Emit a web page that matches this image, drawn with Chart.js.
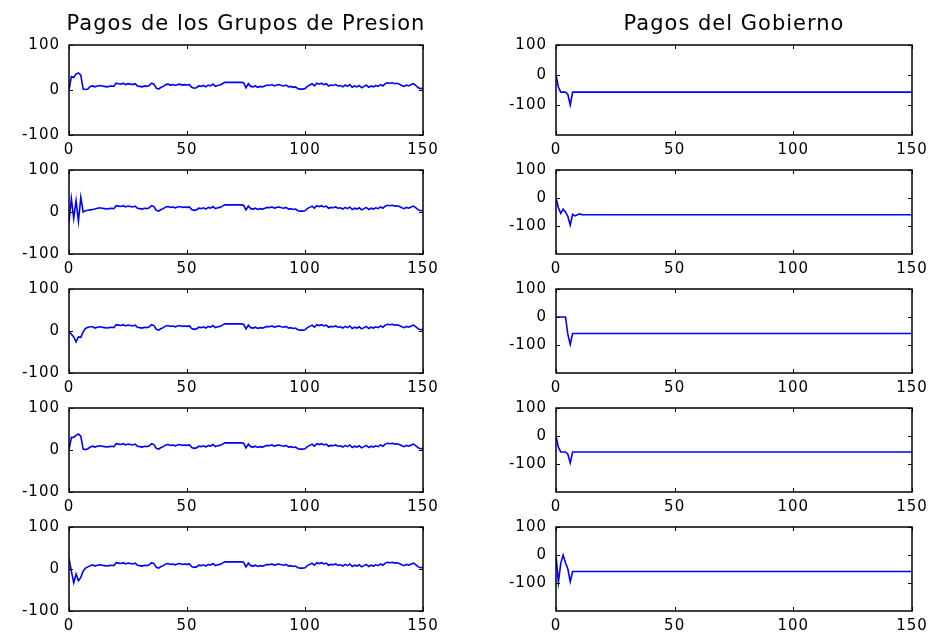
<!DOCTYPE html>
<html lang="es">
<head>
<meta charset="utf-8">
<title>Pagos de los Grupos de Presion / Pagos del Gobierno</title>
<script src="https://cdn.jsdelivr.net/npm/chart.js@4.4.1/dist/chart.umd.min.js"></script>
<style>
  html, body { margin: 0; padding: 0; background: #fff; }
  #lienzo { position: relative; width: 931px; height: 639px; overflow: hidden; }
  #lienzo canvas { position: absolute; }
</style>
</head>
<body>
<div id="lienzo"></div>
<script>
// --- datos -------------------------------------------------------------

// periodos 0..150 (eje x comun)
const PERIODOS = [];
for (let t = 0; t <= 150; t++) PERIODOS.push(t);

const X_TICKS = [0, 50, 100, 150];
const Y_TICKS = [-100, 0, 100];

const TITULO_IZQ = 'Pagos de los Grupos de Presion';
const TITULO_DER = 'Pagos del Gobierno';

// grupos de presion: arranque t = 0..10 de cada simulacion
const PRESION_INICIO_1 = [0, 30, 28, 36, 38, 33, 2, 1, 2, 8, 9];
const PRESION_INICIO_2 = [-25, 32, -15, 27, -22, 35, 0, 3, 4, 5, 6];
const PRESION_INICIO_3 = [0, -8, -14, -26, -14, -15, -2, 6, 9, 10, 10];
const PRESION_INICIO_4 = [0, 30, 30, 35, 38, 33, 2, 1, 3, 7, 9];
const PRESION_INICIO_5 = [25, -5, -33, -12, -28, -20, -5, 2, 5, 8, 10];

// tramo t = 11..150, igual en las cinco simulaciones
const PRESION_COLA = [
  7, 9, 10, 9, 8, 7, 8, 9, 8, 15,
  14, 13, 15, 12, 14, 13, 12, 14, 9, 8,
  7, 9, 8, 10, 15, 13, 4, 2, 6, 8,
  12, 13, 11, 12, 10, 12, 13, 11, 12, 11,
  12, 6, 4, 5, 9, 8, 10, 7, 11, 9,
  13, 8, 10, 11, 14, 17, 17, 17, 17, 17,
  17, 17, 17, 16, 5, 14, 8, 7, 9, 6,
  8, 7, 9, 11, 10, 12, 9, 11, 12, 10,
  9, 11, 7, 8, 6, 7, 3, 2, 2, 3,
  8, 11, 14, 9, 15, 13, 15, 12, 14, 9,
  11, 10, 12, 9, 10, 7, 11, 8, 12, 6,
  9, 7, 10, 5, 8, 11, 6, 9, 7, 10,
  8, 12, 9, 14, 16, 15, 16, 14, 15, 13,
  10, 8, 11, 9, 12, 14, 10, 5, 3, 4
];

// gobierno: vertices [t, pago]; despues del ultimo cambio el pago queda fijo
const GOBIERNO_1 = [[0, 0], [1, -40], [2, -57], [4, -57], [5, -65], [6, -100], [7, -57], [150, -57]];
const GOBIERNO_2 = [[0, 0], [1, -35], [2, -55], [3, -40], [4, -50], [5, -66], [6, -97], [7, -58],
                    [8, -64], [9, -60], [10, -57], [11, -60], [150, -60]];
const GOBIERNO_3 = [[0, 0], [4, 0], [5, -62], [6, -98], [7, -59], [150, -59]];
const GOBIERNO_4 = [[0, 0], [1, -40], [2, -57], [4, -57], [5, -65], [6, -96], [7, -57], [150, -57]];
const GOBIERNO_5 = [[0, 0], [1, -98], [2, -30], [3, 0], [4, -28], [5, -50], [6, -95], [7, -59], [150, -59]];

// --- maquetacion -------------------------------------------------------

const FILAS_Y = [45, 164, 283, 402, 521];
const COL_IZQ = { x: 69, w: 354 };
const COL_DER = { x: 556, w: 356 };
const ALTO = 90;
const MARGEN_LAT = 60; // ancho del eje y, repetido a la derecha para centrar el titulo
const EJE_X = 30;      // alto reservado para las etiquetas del eje x
const MARGEN_SUP = 12;

const FUENTE = "'DejaVu Sans', Verdana, sans-serif";
const AZUL = '#0000ff';

// estilo tipo matlab: caja cerrada y marcas hacia dentro
const cajaMatlab = {
  id: 'cajaMatlab',
  beforeDraw(chart) {
    chart.ctx.letterSpacing = '1px';
  },
  afterDatasetsDraw(chart) {
    const { ctx, chartArea: a, scales: { x, y } } = chart;
    ctx.save();
    ctx.strokeStyle = '#000';
    ctx.lineWidth = 1;
    ctx.beginPath();
    x.ticks.forEach(t => {
      const px = Math.round(x.getPixelForValue(t.value)) + 0.5;
      ctx.moveTo(px, a.bottom); ctx.lineTo(px, a.bottom - 4);
      ctx.moveTo(px, a.top); ctx.lineTo(px, a.top + 4);
    });
    y.ticks.forEach(t => {
      const py = Math.round(y.getPixelForValue(t.value)) + 0.5;
      ctx.moveTo(a.left, py); ctx.lineTo(a.left + 4, py);
      ctx.moveTo(a.right, py); ctx.lineTo(a.right - 4, py);
    });
    ctx.stroke();
    ctx.lineWidth = 1.5;
    ctx.strokeRect(a.left, a.top, a.right - a.left, a.bottom - a.top);
    ctx.restore();
  }
};

function crearPanel(col, fila, datos, yMin, titulo) {
  const canvas = document.createElement('canvas');
  const top = FILAS_Y[fila];
  const canvasTop = titulo ? 0 : top - MARGEN_SUP;
  canvas.width = MARGEN_LAT + col.w + MARGEN_LAT;
  canvas.height = (top - canvasTop) + ALTO + EJE_X;
  canvas.style.left = (col.x - MARGEN_LAT) + 'px';
  canvas.style.top = canvasTop + 'px';
  document.getElementById('lienzo').appendChild(canvas);

  const tickFont = { family: FUENTE, size: 15 };
  const tituloFont = 21;
  const tituloPadTop = 12;

  return new Chart(canvas, {
    type: 'line',
    data: {
      labels: PERIODOS,
      datasets: [{
        data: datos,
        borderColor: AZUL,
        borderWidth: 1.6,
        pointRadius: 0,
        tension: 0,
        fill: false
      }]
    },
    options: {
      responsive: false,
      animation: false,
      events: [],
      layout: { padding: { top: titulo ? 0 : MARGEN_SUP, right: 0, left: 0, bottom: 0 } },
      plugins: {
        legend: { display: false },
        tooltip: { enabled: false },
        title: {
          display: !!titulo,
          text: titulo || '',
          color: '#000',
          font: { family: FUENTE, size: tituloFont, weight: 'normal', lineHeight: 1.2 },
          padding: { top: tituloPadTop, bottom: top - tituloPadTop - tituloFont * 1.2 }
        }
      },
      scales: {
        x: {
          type: 'linear',
          min: 0,
          max: 150,
          afterBuildTicks: s => { s.ticks = X_TICKS.map(v => ({ value: v })); },
          afterFit: s => { s.height = EJE_X; },
          ticks: { color: '#000', font: tickFont, padding: 6, maxRotation: 0, autoSkip: false },
          grid: { display: false, drawTicks: false },
          border: { display: false }
        },
        y: {
          min: yMin,
          max: 100,
          afterBuildTicks: s => { s.ticks = Y_TICKS.map(v => ({ value: v })); },
          afterFit: s => { s.width = MARGEN_LAT; },
          ticks: { color: '#000', font: tickFont, padding: 9 },
          grid: { display: false, drawTicks: false },
          border: { display: false }
        },
        // eje derecho vacio: solo reserva el mismo ancho que el izquierdo
        yDer: {
          position: 'right',
          display: true,
          min: yMin,
          max: 100,
          afterFit: s => { s.width = MARGEN_LAT; },
          ticks: { display: false },
          grid: { display: false, drawTicks: false },
          border: { display: false }
        }
      }
    },
    plugins: [cajaMatlab]
  });
}

const PRESION = [
  [...PRESION_INICIO_1, ...PRESION_COLA],
  [...PRESION_INICIO_2, ...PRESION_COLA],
  [...PRESION_INICIO_3, ...PRESION_COLA],
  [...PRESION_INICIO_4, ...PRESION_COLA],
  [...PRESION_INICIO_5, ...PRESION_COLA]
];
const GOBIERNO = [GOBIERNO_1, GOBIERNO_2, GOBIERNO_3, GOBIERNO_4, GOBIERNO_5];

PRESION.forEach((serie, i) => crearPanel(COL_IZQ, i, serie, -100, i === 0 ? TITULO_IZQ : null));
GOBIERNO.forEach((serie, i) => crearPanel(COL_DER, i, serie, -200, i === 0 ? TITULO_DER : null));
</script>
</body>
</html>
